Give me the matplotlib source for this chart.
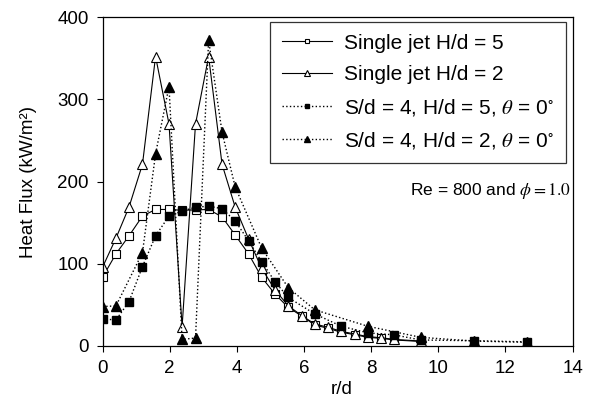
import matplotlib
matplotlib.use('Agg')
import matplotlib.pyplot as plt

plt.rcParams['font.family'] = ['Liberation Sans', 'DejaVu Sans']
plt.rcParams['mathtext.fontset'] = 'stix'

# r/d positions of the measuring points
r_single = [0, 0.4, 0.79, 1.19, 1.58, 1.98, 2.37, 2.77, 3.16, 3.56, 3.95, 4.35,
            4.74, 5.14, 5.53, 5.93, 6.32, 6.72, 7.11, 7.51, 7.9, 8.3, 8.69, 9.48]
r_sq = [0, 0.4, 0.79, 1.19, 1.58, 1.98, 2.37, 2.77, 3.16, 3.56, 3.95, 4.35,
        4.74, 5.14, 5.53, 6.32, 7.11, 7.9, 8.69, 9.48, 11.06, 12.64]
r_tri = [0, 0.4, 1.19, 1.58, 1.98, 2.37, 2.77, 3.16, 3.56, 3.95,
         4.74, 5.53, 6.32, 7.9, 9.48, 11.06, 12.64]

# heat flux (kW/m2)
single_h5 = [83.5, 112, 134, 158, 166, 166, 165, 165.5, 166, 157, 135, 112,
             83.5, 63, 47, 36.5, 25.5, 21.5, 16.6, 13.8, 10.5, 9.3, 7.3, 5.5]
single_h2 = [95.7, 131, 169, 221, 352, 270, 23.5, 270, 352, 221, 169, 130,
             94.5, 68, 49, 37, 26.8, 22.7, 17.8, 14.6, 11.4, 10, 8, 6]
multi_h5 = [33, 31.6, 54, 96.5, 134, 158, 164, 168.7, 170, 167, 152, 128,
            102.5, 78, 59, 39, 24, 16, 13.5, 7.3, 6.4, 5]
multi_h2 = [48, 48.7, 113.5, 233.6, 315.5, 8, 9.7, 372, 260, 193.5,
            119, 71, 44, 24, 10.5, 6, 4.5]

fig = plt.figure(figsize=(5.95, 3.96), dpi=100)
ax = fig.add_axes([0.1723, 0.1263, 0.79, 0.8307])

ax.plot(r_single, single_h5, '-', color='black', lw=0.8, marker='s', ms=5.5,
        mfc='white', mec='black', mew=0.8, label='Single jet H/d = 5')
ax.plot(r_single, single_h2, '-', color='black', lw=0.8, marker='^', ms=6.5,
        mfc='white', mec='black', mew=0.8, label='Single jet H/d = 2')
ax.plot(r_sq, multi_h5, ':', color='black', lw=1.0, marker='s', ms=5.5,
        mfc='black', mec='black', label=r'S/d = 4, H/d = 5, $\theta$ = 0$^{\circ}$')
ax.plot(r_tri, multi_h2, ':', color='black', lw=1.0, marker='^', ms=6.5,
        mfc='black', mec='black', label=r'S/d = 4, H/d = 2, $\theta$ = 0$^{\circ}$')

ax.set_xlim(0, 14)
ax.set_ylim(0, 400)
ax.set_xticks([0, 2, 4, 6, 8, 10, 12, 14])
ax.set_yticks([0, 100, 200, 300, 400])
ax.tick_params(direction='out', length=4, width=0.8, labelsize=13.5, pad=6)
for s in ax.spines.values():
    s.set_linewidth(0.9)

ax.set_xlabel('r/d', fontsize=13.5)
ax.set_ylabel('Heat Flux (kW/m²)', fontsize=13.5)
ax.xaxis.set_label_coords(0.509, -0.105)
ax.yaxis.set_label_coords(-0.14, 0.5)

leg = ax.legend(loc='upper right', bbox_to_anchor=(0.986, 0.984), borderaxespad=0,
                fontsize=15, frameon=True, fancybox=False, edgecolor='black',
                markerscale=0.6, handlelength=2.4, handletextpad=0.6,
                labelspacing=0.6, borderpad=0.55)
leg.get_frame().set_linewidth(0.9)

ax.text(0.825, 0.47, r'Re = 800 and $\phi = 1.0$', transform=ax.transAxes,
        ha='center', va='center', fontsize=12.5)

fig.savefig('out.png', dpi=100)
